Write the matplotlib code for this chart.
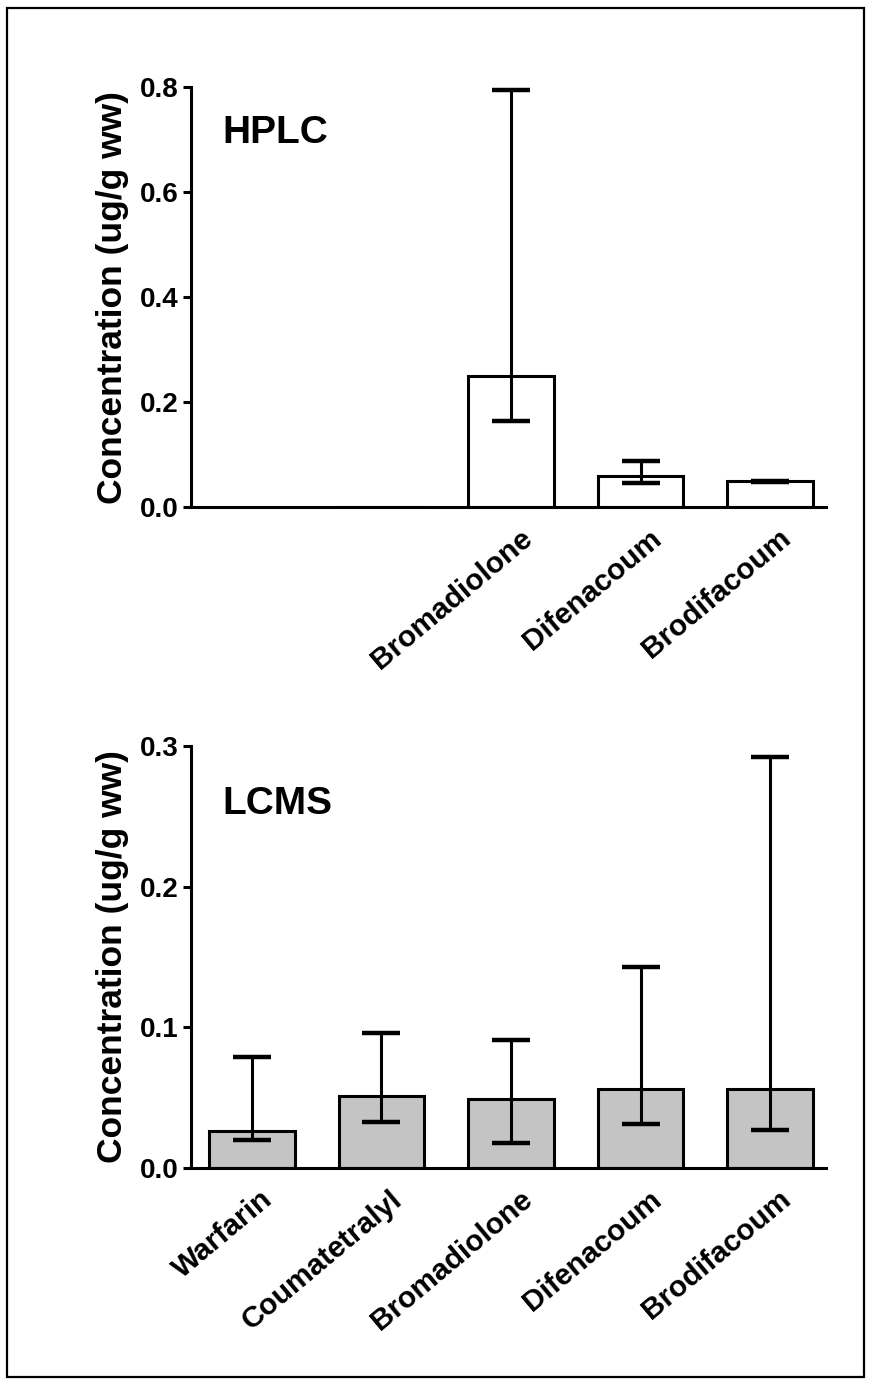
import numpy as np
import matplotlib.pyplot as plt
from matplotlib.patches import Rectangle
from matplotlib.transforms import ScaledTranslation

plt.rcParams['font.family'] = ['Liberation Sans', 'DejaVu Sans']
plt.rcParams['font.weight'] = 'bold'

# HPLC (first category not detected, second at zero)
hplc_labels = ["", "", "Bromadiolone", "Difenacoum", "Brodifacoum"]
hplc_mean = [np.nan, 0.0, 0.25, 0.059, 0.049]
hplc_low = [np.nan, np.nan, 0.164, 0.046, 0.047]
hplc_high = [np.nan, np.nan, 0.795, 0.087, 0.050]

# LCMS
lcms_labels = ["Warfarin", "Coumatetralyl", "Bromadiolone", "Difenacoum", "Brodifacoum"]
lcms_mean = [0.026, 0.051, 0.049, 0.056, 0.056]
lcms_low = [0.020, 0.033, 0.018, 0.031, 0.027]
lcms_high = [0.079, 0.096, 0.091, 0.143, 0.292]

fig = plt.figure(figsize=(8.74, 13.85), dpi=100)
fig.patches.append(Rectangle((0.008, 0.006), 0.980, 0.988, transform=fig.transFigure,
                             fill=False, lw=1.6, ec='black'))

lw = 2.2


def panel(ax, labels, mean, low, high, color, ymax, yticks, title, ty):
    x = np.arange(len(labels))
    mean = np.array(mean, float)
    ok = ~np.isnan(mean)
    ax.bar(x[ok], mean[ok], width=0.66, color=color, edgecolor='black', linewidth=lw, zorder=2)
    low = np.array(low, float)
    high = np.array(high, float)
    e = ~np.isnan(low)
    ax.errorbar(x[e], mean[e], yerr=[mean[e] - low[e], high[e] - mean[e]], fmt='none',
                ecolor='black', elinewidth=lw, capsize=13.5, capthick=3.2, zorder=3)
    ax.set_xlim(-0.47, 4.43)
    ax.set_ylim(0, ymax)
    ax.set_yticks(yticks)
    ax.set_yticklabels([f"{t:.1f}" for t in yticks], fontsize=20, fontweight='bold')
    ax.set_xticks(x)
    ax.set_xticklabels([])
    # rotated category labels, offset so their ends sit right of the bar centre
    shift = ScaledTranslation(12.5 / 72, -20 / 72, fig.dpi_scale_trans)
    for xi, lab in zip(x, labels):
        ax.text(xi, 0, lab, transform=ax.get_xaxis_transform() + shift, rotation=40,
                ha='right', va='center', rotation_mode='anchor', fontsize=21.5,
                fontweight='bold')
    ax.tick_params(axis='x', length=0)
    ax.tick_params(axis='y', length=6, width=lw, pad=3)
    for s in ['top', 'right']:
        ax.spines[s].set_visible(False)
    for s in ['left', 'bottom']:
        ax.spines[s].set_linewidth(lw)
    ax.set_ylabel("Concentration (ug/g ww)", fontsize=25.5, fontweight='bold', labelpad=8)
    ax.text(0.049, ty, title, transform=ax.transAxes, fontsize=28, fontweight='bold',
            va='center', ha='left')


ax1 = fig.add_axes([0.2185, 0.634, 0.7265, 0.303])
panel(ax1, hplc_labels, hplc_mean, hplc_low, hplc_high, 'white', 0.8,
      [0.0, 0.2, 0.4, 0.6, 0.8], "HPLC", 0.89)

ax2 = fig.add_axes([0.2185, 0.1567, 0.7265, 0.3047])
panel(ax2, lcms_labels, lcms_mean, lcms_low, lcms_high, '#c4c4c4', 0.3,
      [0.0, 0.1, 0.2, 0.3], "LCMS", 0.863)

fig.savefig("out.png", dpi=100)
